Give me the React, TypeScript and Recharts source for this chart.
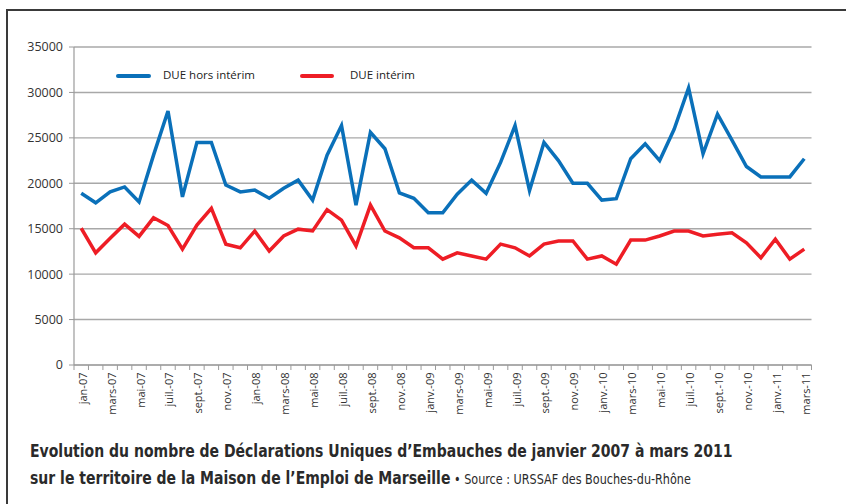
import React from "react";
import { LineChart, Line, XAxis, YAxis, CartesianGrid } from "recharts";

const months = [
  "jan-07", "févr.-07", "mars-07", "avr.-07", "mai-07", "juin-07", "juil.-07", "août-07", "sept.-07", "oct.-07", "nov.-07", "déc.-07",
  "jan-08", "févr.-08", "mars-08", "avr.-08", "mai-08", "juin-08", "juil.-08", "août-08", "sept.-08", "oct.-08", "nov.-08", "déc.-08",
  "janv.-09", "févr.-09", "mars-09", "avr.-09", "mai-09", "juin-09", "juil.-09", "août-09", "sept.-09", "oct.-09", "nov.-09", "déc.-09",
  "janv.-10", "févr.-10", "mars-10", "avr.-10", "mai-10", "juin-10", "juil.-10", "août-10", "sept.-10", "oct.-10", "nov.-10", "déc.-10",
  "janv.-11", "févr.-11", "mars-11",
];

const horsInterim = [
  18900, 17850, 19050, 19600, 17950, 23100, 27950, 18500, 24500, 24500, 19800, 19050,
  19250, 18350, 19450, 20350, 18150, 23100, 26350, 17600, 25600, 23800, 18950, 18350,
  16750, 16750, 18800, 20350, 18900, 22300, 26350, 19200, 24500, 22500, 20000, 20000,
  18150, 18300, 22700, 24350, 22500, 25950, 30500, 23250, 27600, 24750, 21850, 20700,
  20700, 20700, 22700,
];

const interim = [
  15050, 12350, 13950, 15500, 14150, 16200, 15350, 12750, 15400, 17250, 13300, 12900,
  14750, 12550, 14200, 14950, 14750, 17100, 15950, 13100, 17600, 14750, 14000, 12900,
  12900, 11650, 12350, 12000, 11650, 13300, 12900, 12000, 13300, 13650, 13650, 11650,
  12000, 11100, 13750, 13750, 14200, 14750, 14750, 14200, 14400, 14550, 13450, 11800,
  13850, 11650, 12750,
];

const yTicks = [0, 5000, 10000, 15000, 20000, 25000, 30000, 35000];

const seriesNames = ["DUE hors intérim", "DUE intérim"];
const seriesColors = ["#0a70b9", "#ee1d25"];

const data = months.map((m, i) => ({ month: m, hors: horsInterim[i], interim: interim[i] }));

const W = 846;
const PLOT_LEFT = 74;
const PLOT_RIGHT = 811.5;
const STEP = (PLOT_RIGHT - PLOT_LEFT) / months.length;
const FONT = "'Open Sans', 'DejaVu Sans', sans-serif";

const XTick = (props: any) => {
  const { x, y, payload } = props;
  const i = payload.index;
  const show = i % 2 === 0;
  return (
    <g>
      <line x1={x - STEP / 2} x2={x - STEP / 2} y1={y} y2={y + 5} stroke="#9a9a9a" strokeWidth={1} />
      {i === months.length - 1 && (
        <line x1={x + STEP / 2} x2={x + STEP / 2} y1={y} y2={y + 5} stroke="#9a9a9a" strokeWidth={1} />
      )}
      {show && (
        <text
          x={x + 5.5}
          y={y + 7.5}
          transform={`rotate(-90, ${x + 5.5}, ${y + 7.5})`}
          textAnchor="end"
          fontSize={11}
          fontFamily={FONT}
          fill="#333"
        >
          {payload.value}
        </text>
      )}
    </g>
  );
};

export default function App() {
  return (
    <div style={{ position: "absolute", left: 0, top: 0, width: W, height: 504, background: "#fff", overflow: "hidden" }}>
      <div
        style={{
          position: "absolute",
          left: 6,
          top: 9,
          width: 1000,
          height: 1000,
          borderLeft: "2px solid #3a3a3a",
          borderTop: "2px solid #3a3a3a",
        }}
      />
      <div style={{ position: "absolute", left: 0, top: 0 }}>
        <LineChart
          width={W}
          height={425}
          data={data}
          margin={{ top: 47, right: W - PLOT_RIGHT, left: 0, bottom: 0 }}
        >
          <CartesianGrid vertical={false} stroke="#a8a8a8" strokeWidth={1.4} />
          <XAxis
            dataKey="month"
            interval={0}
            height={60}
            padding={{ left: STEP / 2, right: STEP / 2 }}
            tick={<XTick />}
            tickLine={false}
            tickSize={0}
            tickMargin={0}
            axisLine={{ stroke: "#9a9a9a", strokeWidth: 1.2 }}
          />
          <YAxis
            width={PLOT_LEFT}
            domain={[0, 35000]}
            ticks={yTicks}
            interval={0}
            tickSize={5}
            tickMargin={6}
            tickLine={{ stroke: "#9a9a9a" }}
            axisLine={{ stroke: "#9a9a9a", strokeWidth: 1.2 }}
            tick={{ fontSize: 12.5, fontFamily: FONT, fill: "#333" }}
          />
          <Line
            type="linear"
            dataKey="hors"
            name={seriesNames[0]}
            stroke={seriesColors[0]}
            strokeWidth={3.5}
            dot={false}
            isAnimationActive={false}
          />
          <Line
            type="linear"
            dataKey="interim"
            name={seriesNames[1]}
            stroke={seriesColors[1]}
            strokeWidth={3.5}
            dot={false}
            isAnimationActive={false}
          />
        </LineChart>
      </div>
      <div style={{ position: "absolute", left: 116, top: 67, width: 320, height: 20, fontFamily: FONT, fontSize: 11.5, color: "#222" }}>
        <div style={{ position: "absolute", left: 0, top: 7, width: 35, height: 4, background: seriesColors[0], borderRadius: 2 }} />
        <div style={{ position: "absolute", left: 47, top: 0, whiteSpace: "nowrap" }}>{seriesNames[0]}</div>
        <div style={{ position: "absolute", left: 184, top: 7, width: 34, height: 4, background: seriesColors[1], borderRadius: 2 }} />
        <div style={{ position: "absolute", left: 234, top: 0, whiteSpace: "nowrap" }}>{seriesNames[1]}</div>
      </div>
      <div
        style={{
          position: "absolute",
          left: 30,
          top: 438,
          fontFamily: "'DejaVu Sans Condensed', 'Liberation Sans Narrow', sans-serif",
          fontWeight: "bold",
          fontSize: 17.5,
          color: "#2a2a2a",
          whiteSpace: "nowrap",
          lineHeight: "27px",
          transform: "scaleX(0.89)",
          transformOrigin: "0 0",
        }}
      >
        <div>Evolution du nombre de Déclarations Uniques d’Embauches de janvier 2007 à mars 2011</div>
        <div>
          sur le territoire de la Maison de l’Emploi de Marseille
          <span style={{ fontWeight: "normal", fontSize: 14 }}> • Source : URSSAF des Bouches-du-Rhône</span>
        </div>
      </div>
    </div>
  );
}
